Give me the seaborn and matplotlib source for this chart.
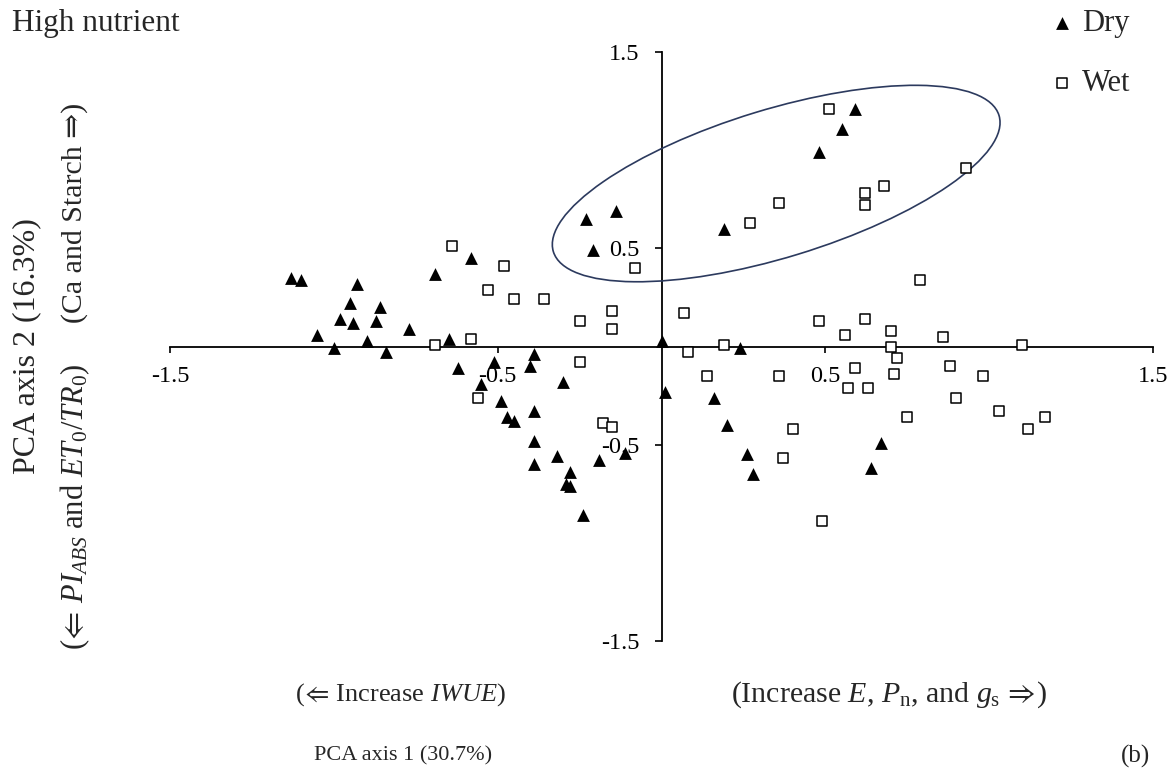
import numpy as np
import pandas as pd
import matplotlib
matplotlib.use("Agg")
import matplotlib.pyplot as plt
import matplotlib.transforms as mtransforms
from matplotlib.patches import Ellipse
import seaborn as sns

# PCA scores, high-nutrient plants
dry_x = [-1.13, -1.10, -0.93, -0.95, -0.86, -0.98, -0.94, -0.87, -1.05, -1.00,
         -0.90, -0.84, -0.77, -0.69, -0.58, -0.65, -0.62, -0.51, -0.55, -0.39,
         -0.40, -0.30, -0.49, -0.47, -0.45, -0.39, -0.39, -0.39, -0.32, -0.28,
         -0.29, -0.28, -0.24, -0.19, -0.11, 0.00, 0.01, -0.23, -0.14, -0.21,
         0.19, 0.48, 0.55, 0.59, 0.24, 0.16, 0.20, 0.26, 0.28, 0.67, 0.64]
dry_y = [0.35, 0.34, 0.32, 0.22, 0.20, 0.14, 0.12, 0.13, 0.06, -0.01,
         0.03, -0.03, 0.09, 0.37, 0.45, 0.04, -0.11, -0.08, -0.19, -0.04,
         -0.10, -0.18, -0.28, -0.36, -0.38, -0.33, -0.48, -0.60, -0.56, -0.64,
         -0.70, -0.71, -0.86, -0.58, -0.54, 0.03, -0.23, 0.65, 0.69, 0.49,
         0.60, 0.99, 1.11, 1.21, -0.01, -0.26, -0.40, -0.55, -0.65, -0.49, -0.62]

wet_x = [-0.64, -0.48, -0.53, -0.45, -0.36, -0.08, -0.25, -0.15, -0.15, -0.69,
         -0.58, -0.25, -0.56, -0.18, -0.15, 0.51, 0.93, 0.68, 0.62, 0.62,
         0.36, 0.27, 0.79, 0.07, 0.48, 0.62, 0.56, 0.70, 0.86, 0.70,
         0.72, 0.71, 1.10, 0.08, 0.19, 0.14, 0.36, 0.59, 0.57, 0.63,
         0.88, 0.98, 0.90, 0.75, 1.03, 1.12, 1.17, 0.40, 0.37, 0.49]
wet_y = [0.51, 0.41, 0.29, 0.24, 0.24, 0.40, 0.13, 0.18, 0.09, 0.01,
         0.04, -0.08, -0.26, -0.39, -0.41, 1.21, 0.91, 0.82, 0.78, 0.72,
         0.73, 0.63, 0.34, 0.17, 0.13, 0.14, 0.06, 0.08, 0.05, 0.00,
         -0.06, -0.14, 0.01, -0.03, 0.01, -0.15, -0.15, -0.11, -0.21, -0.21,
         -0.10, -0.15, -0.26, -0.36, -0.33, -0.42, -0.36, -0.42, -0.57, -0.89]

ticks = [-1.5, -0.5, 0.5, 1.5]
tick_labels = ["-1.5", "-0.5", "0.5", "1.5"]

# cluster outline (centre in PCA units)
cluster_centre = (0.35, 0.83)

sns.set_theme(style="white")
plt.rcParams["font.family"] = ["Liberation Serif", "DejaVu Serif"]
plt.rcParams["mathtext.fontset"] = "custom"
plt.rcParams["mathtext.rm"] = "Liberation Serif"
plt.rcParams["mathtext.it"] = "Liberation Serif:italic"
plt.rcParams["mathtext.fallback"] = "stix"

dry = pd.DataFrame({"PC1": dry_x, "PC2": dry_y})
wet = pd.DataFrame({"PC1": wet_x, "PC2": wet_y})

fig = plt.figure(figsize=(11.73, 7.74), dpi=100)
ax = fig.add_axes([170 / 1173, 1 - 641 / 774, 983 / 1173, 589 / 774])

sns.scatterplot(data=dry, x="PC1", y="PC2", ax=ax, marker="^", s=85,
                color="black", linewidth=0, label="Dry", zorder=4)
sns.scatterplot(data=wet, x="PC1", y="PC2", ax=ax, marker="s", s=62,
                facecolor="white", edgecolor="black", linewidth=1.1,
                label="Wet", zorder=4)

ax.set_xlim(-1.5, 1.5)
ax.set_ylim(-1.5, 1.5)
for side in ["top", "right"]:
    ax.spines[side].set_visible(False)
for side in ["left", "bottom"]:
    ax.spines[side].set_position(("data", 0))
    ax.spines[side].set_color("black")
    ax.spines[side].set_linewidth(1.3)
ax.set_xticks(ticks)
ax.set_xticklabels(tick_labels)
ax.set_yticks(ticks)
ax.set_yticklabels(tick_labels)
ax.tick_params(axis="x", direction="out", length=4, width=1.2, pad=10,
               labelsize=17.5, colors="black", bottom=True)
ax.tick_params(axis="y", direction="out", length=5, width=1.2, pad=11,
               labelsize=17.5, colors="black", left=True)
ax.set_xlabel("")
ax.set_ylabel("")

# ellipse around the upper cluster, sized in inches so it keeps its shape
ell_trans = fig.dpi_scale_trans + mtransforms.ScaledTranslation(
    cluster_centre[0], cluster_centre[1], ax.transData)
ax.add_patch(Ellipse((0, 0), width=4.66, height=1.48, angle=17,
                     transform=ell_trans, fill=False, edgecolor="#2c3a5e",
                     linewidth=1.2, zorder=3))

leg = ax.legend(loc="upper left", bbox_to_anchor=(1050 / 1173, 1 - 9 / 774),
                bbox_transform=fig.transFigure, frameon=False, fontsize=22,
                handletextpad=0.25, handlelength=0.8, labelspacing=1.0,
                borderaxespad=0, borderpad=0)

fig.text(12 / 1173, 1 - 24 / 774, "High nutrient", fontsize=22.5,
         ha="left", va="center")
fig.text(27 / 1173, 1 - 346 / 774, "PCA axis 2 (16.3%)", fontsize=23,
         rotation=90, ha="center", va="center")
fig.text(75 / 1173, 1 - 213 / 774, "(Ca and Starch \u21d2)",
         fontsize=21.5, rotation=90, ha="center", va="center")
fig.text(75 / 1173, 1 - 507 / 774,
         r"($\!\Leftarrow\!$ $PI_{ABS}$ and $ET_{0}/TR_{0}$)", fontsize=22,
         rotation=90, ha="center", va="center")
fig.text(400 / 1173, 1 - 695 / 774, r"($\!\Leftarrow\,$Increase $IWUE$)",
         fontsize=19, ha="center", va="center")
fig.text(889 / 1173, 1 - 695 / 774,
         r"(Increase $E$, $P_{\mathrm{n}}$, and $g_{\mathrm{s}}\,\Rightarrow\!$)",
         fontsize=21.5, ha="center", va="center")
fig.text(403 / 1173, 1 - 756 / 774, "PCA axis 1 (30.7%)", fontsize=16,
         ha="center", va="center")
fig.text(1135 / 1173, 1 - 756 / 774, "(b)", fontsize=18,
         ha="center", va="center")

fig.savefig("out.png", dpi=100)
